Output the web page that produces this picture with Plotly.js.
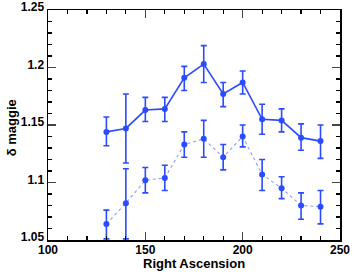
<!DOCTYPE html>
<html><head><meta charset="utf-8">
<script src="https://cdn.plot.ly/plotly-3.0.1.min.js"></script>
<style>body{margin:0;padding:0;background:#fff}#chart{width:354px;height:272px}</style>
</head><body><div id="chart"></div>
<script>
const ra = [130,140,150,160,170,180,190,200,210,220,230,240];
const solidVal = [1.144,1.147,1.163,1.164,1.191,1.203,1.177,1.187,1.155,1.154,1.139,1.136];
const solidHi  = [1.157,1.177,1.174,1.174,1.201,1.219,1.187,1.197,1.168,1.164,1.151,1.150];
const solidLo  = [1.132,1.117,1.153,1.153,1.180,1.187,1.166,1.177,1.142,1.144,1.128,1.121];
const dotVal = [1.064,1.082,1.102,1.104,1.133,1.138,1.122,1.140,1.107,1.095,1.080,1.079];
const dotHi  = [1.076,1.112,1.113,1.115,1.144,1.154,1.133,1.150,1.120,1.105,1.091,1.093];
const dotLo  = [1.051,1.051,1.091,1.093,1.122,1.122,1.111,1.131,1.093,1.086,1.068,1.064];
const xTitle = 'Right Ascension';
const yTitle = 'δ maggie';

const blue = '#2a4bff';
function errs(v, hi, lo){
  return {type:'data', symmetric:false,
    array: hi.map((h,i)=>h-v[i]), arrayminus: lo.map((l,i)=>v[i]-l),
    color: blue, thickness: 1.6, width: 3};
}
const traces = [
  {x: ra, y: solidVal, mode:'lines+markers', line:{color:blue, width:1.6},
   marker:{color:blue, size:6}, error_y: errs(solidVal, solidHi, solidLo)},
  {x: ra, y: dotVal, mode:'lines+markers', line:{color:'#8a9cff', width:1.1, dash:'dot'},
   marker:{color:blue, size:6}, error_y: errs(dotVal, dotHi, dotLo)}
];
const ff = 'Liberation Sans, Arial, sans-serif';
const axFont = {family:ff, size:12, color:'#000', weight:'bold'};
const layout = {
  width:354, height:272, showlegend:false,
  margin:{l:48, r:14, t:10, b:32},
  paper_bgcolor:'#fff', plot_bgcolor:'#fff',
  font:{family:ff, color:'#000'},
  xaxis:{range:[100,250], dtick:50, tick0:100, ticks:'inside', ticklen:8, tickwidth:1.2,
    showgrid:false, zeroline:false, showline:true, linecolor:'#000', linewidth:1.5, mirror:'allticks',
    tickfont:axFont, ticklabelstandoff:-2,
    minor:{dtick:10, ticks:'inside', ticklen:4, tickcolor:'#000', showgrid:false}},
  yaxis:{range:[1.05,1.25], dtick:0.05, tick0:1.05, ticks:'inside', ticklen:8, tickwidth:1.2,
    showgrid:false, zeroline:false, showline:true, linecolor:'#000', linewidth:1.5, mirror:'allticks',
    tickfont:axFont, ticklabelshift:-3,
    minor:{dtick:0.01, ticks:'inside', ticklen:4, tickcolor:'#000', showgrid:false}},
  annotations:[
    {text:'<b>'+xTitle+'</b>', xref:'paper', yref:'paper', x:0.5, y:-0.102, xanchor:'center', yanchor:'middle',
     showarrow:false, font:{family:ff, size:13, color:'#000'}},
    {text:'<b>'+yTitle+'</b>', xref:'paper', yref:'paper', x:-0.127, y:0.49, xanchor:'center', yanchor:'middle',
     textangle:-90, showarrow:false, font:{family:ff, size:13, color:'#000'}}
  ]
};
Plotly.newPlot('chart', traces, layout, {displayModeBar:false, staticPlot:true});
</script></body></html>
